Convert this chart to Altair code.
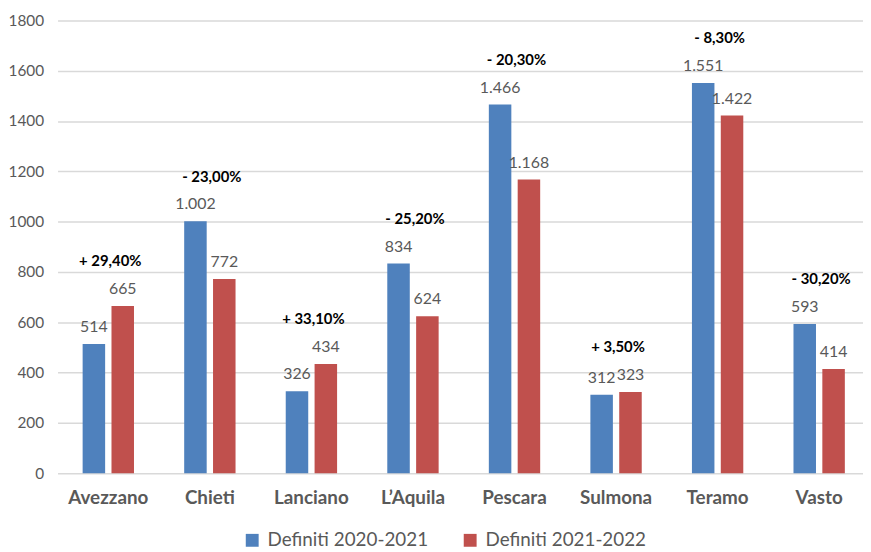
import altair as alt
import pandas as pd

cities = ["Avezzano", "Chieti", "Lanciano", "L’Aquila", "Pescara", "Sulmona", "Teramo", "Vasto"]
series = ["Definiti 2020-2021", "Definiti 2021-2022"]
v2021 = [514, 1002, 326, 834, 1466, 312, 1551, 593]
v2022 = [665, 772, 434, 624, 1168, 323, 1422, 414]
changes = ["+ 29,40%", "- 23,00%", "+ 33,10%", "- 25,20%", "- 20,30%", "+ 3,50%", "- 8,30%", "- 30,20%"]
colors = ["#4F81BD", "#C0504D"]
y_ticks = [0, 200, 400, 600, 800, 1000, 1200, 1400, 1600, 1800]


def it_fmt(v):
    return f"{v:,}".replace(",", ".")


rows = []
for c, a, b in zip(cities, v2021, v2022):
    rows.append({"city": c, "series": series[0], "value": a, "label": it_fmt(a)})
    rows.append({"city": c, "series": series[1], "value": b, "label": it_fmt(b)})
df = pd.DataFrame(rows)

pct = pd.DataFrame({
    "city": cities,
    "top": [max(a, b) for a, b in zip(v2021, v2022)],
    "text": changes,
})

FONT = "Lato"

x_enc = alt.X("city:N", sort=cities,
              scale=alt.Scale(paddingInner=0, paddingOuter=0, range=[0, 820]),
              axis=alt.Axis(title=None, labelAngle=0, labelFont=FONT, labelFontSize=19,
                            labelFontWeight="bold", labelColor="#595959", labelPadding=16,
                            domain=False, ticks=False, grid=False))
xoff = alt.XOffset("series:N", sort=series,
                   scale=alt.Scale(paddingInner=0.22, paddingOuter=0.87))
y_enc = alt.Y("value:Q", scale=alt.Scale(domain=[0, 1800], nice=False),
              axis=alt.Axis(title=None, values=y_ticks, format="d", labelFont=FONT,
                            labelFontSize=15.5, labelColor="#595959", labelPadding=14,
                            domain=False, ticks=False, grid=True, gridColor="#D9D9D9",
                            gridWidth=1.5))

bars = alt.Chart(df).mark_bar().encode(
    x=x_enc,
    xOffset=xoff,
    y=y_enc,
    color=alt.Color("series:N", sort=series,
                    scale=alt.Scale(domain=series, range=colors),
                    legend=alt.Legend(title=None, orient="none", legendX=187, legendY=515,
                                      direction="horizontal", symbolType="square",
                                      symbolSize=169, symbolStrokeWidth=0,
                                      labelFont=FONT, labelFontSize=19, labelLimit=400,
                                      labelColor="#595959", columnPadding=32,
                                      labelOffset=6)),
)

vals = alt.Chart(df).mark_text(dy=-17, baseline="middle", font=FONT, fontSize=16,
                               color="#595959").encode(
    x=alt.X("city:N", sort=cities),
    xOffset=alt.XOffset("series:N", sort=series),
    y=alt.Y("value:Q"),
    text="label:N",
)

pcts = alt.Chart(pct).mark_text(dy=-45, dx=2, baseline="middle", font=FONT, fontSize=15,
                                fontWeight="bold", color="#000000").encode(
    x=alt.X("city:N", sort=cities),
    y=alt.Y("top:Q"),
    text="text:N",
)

chart = alt.layer(bars, vals, pcts).properties(
    width=813, height=457,
    autosize=alt.AutoSizeParams(type="none"),
    padding={"left": 50, "top": 10, "right": 0, "bottom": 77},
).configure_view(stroke=None)

chart.save("out.html", embed_options={"renderer": "svg", "actions": False})
